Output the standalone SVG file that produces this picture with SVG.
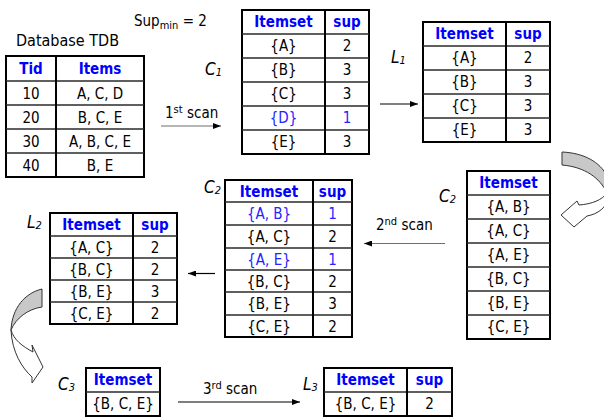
<svg xmlns="http://www.w3.org/2000/svg" width="604" height="418" viewBox="0 0 604 418">
  <defs>
    <marker id="head" viewBox="0 0 8 6" refX="8" refY="3" markerWidth="8" markerHeight="6" markerUnits="userSpaceOnUse" orient="auto">
      <path d="M0,0 L8,3 L0,6 Z" fill="#000"/>
    </marker>
    <style>
      text { font-family: "DejaVu Sans Condensed", "DejaVu Sans", sans-serif; font-size: 15px; fill: #000; }
      .c { text-anchor: middle; }
      .h { font-weight: bold; fill: #0000ff; }
      .blue { fill: #2323ff; }
      .lbl { font-style: italic; font-size: 17px; }
      .sub { font-size: 11px; }
      .title { font-size: 16px; }
      .frame { fill: #fff; stroke: #000; stroke-width: 2; }
      .rule { stroke: #2a2a2a; stroke-width: 1.6; }
      .div { stroke: #000; stroke-width: 2; }
      .arrow { stroke: #000; stroke-width: 1.2; fill: none; marker-end: url(#head); }
      .scan { stroke: #6e6e6e; }
      .band { fill: #c8c8c8; stroke: #333; stroke-width: 1; }
      .face { fill: #fff; stroke: #333; stroke-width: 1; }
    </style>
  </defs>

  <!-- free labels -->
  <text x="134" y="26">Sup<tspan class="sub" dy="3">min</tspan><tspan dy="-3"> = 2</tspan></text>
  <text class="title" x="16" y="46">Database TDB</text>

  <!-- transaction database -->
  <g id="tdb">
    <rect class="frame" x="6" y="56" width="138" height="121"/>
    <line class="rule" x1="6" y1="81" x2="144" y2="81"/>
    <line class="rule" x1="6" y1="105" x2="144" y2="105"/>
    <line class="rule" x1="6" y1="129" x2="144" y2="129"/>
    <line class="rule" x1="6" y1="153" x2="144" y2="153"/>
    <line class="div" x1="56" y1="56" x2="56" y2="177"/>
    <text class="c h" x="31" y="74">Tid</text>
    <text class="c h" x="100" y="74">Items</text>
    <text class="c" x="31" y="99">10</text><text class="c" x="100" y="99">A, C, D</text>
    <text class="c" x="31" y="123">20</text><text class="c" x="100" y="123">B, C, E</text>
    <text class="c" x="31" y="147">30</text><text class="c" x="100" y="147">A, B, C, E</text>
    <text class="c" x="31" y="171">40</text><text class="c" x="100" y="171">B, E</text>
  </g>

  <!-- candidate 1-itemsets -->
  <g id="c1">
    <text class="lbl" x="205" y="75">C<tspan class="sub" dy="1">1</tspan></text>
    <rect class="frame" x="242" y="10" width="127" height="144"/>
    <line class="rule" x1="242" y1="34" x2="369" y2="34"/>
    <line class="rule" x1="242" y1="58" x2="369" y2="58"/>
    <line class="rule" x1="242" y1="82" x2="369" y2="82"/>
    <line class="rule" x1="242" y1="106" x2="369" y2="106"/>
    <line class="rule" x1="242" y1="130" x2="369" y2="130"/>
    <line class="div" x1="325" y1="10" x2="325" y2="154"/>
    <text class="c h" x="283.5" y="27">Itemset</text><text class="c h" x="347" y="27">sup</text>
    <text class="c" x="283.5" y="51">{A}</text><text class="c" x="347" y="51">2</text>
    <text class="c" x="283.5" y="75">{B}</text><text class="c" x="347" y="75">3</text>
    <text class="c" x="283.5" y="99">{C}</text><text class="c" x="347" y="99">3</text>
    <text class="c blue" x="283.5" y="123">{D}</text><text class="c blue" x="347" y="123">1</text>
    <text class="c" x="283.5" y="147">{E}</text><text class="c" x="347" y="147">3</text>
  </g>

  <!-- frequent 1-itemsets -->
  <g id="l1">
    <text class="lbl" x="391" y="63">L<tspan class="sub" dy="1">1</tspan></text>
    <rect class="frame" x="423" y="22" width="127" height="120"/>
    <line class="rule" x1="423" y1="46" x2="550" y2="46"/>
    <line class="rule" x1="423" y1="70" x2="550" y2="70"/>
    <line class="rule" x1="423" y1="94" x2="550" y2="94"/>
    <line class="rule" x1="423" y1="118" x2="550" y2="118"/>
    <line class="div" x1="506" y1="22" x2="506" y2="142"/>
    <text class="c h" x="464.5" y="39">Itemset</text><text class="c h" x="528" y="39">sup</text>
    <text class="c" x="464.5" y="63">{A}</text><text class="c" x="528" y="63">2</text>
    <text class="c" x="464.5" y="87">{B}</text><text class="c" x="528" y="87">3</text>
    <text class="c" x="464.5" y="111">{C}</text><text class="c" x="528" y="111">3</text>
    <text class="c" x="464.5" y="135">{E}</text><text class="c" x="528" y="135">3</text>
  </g>

  <!-- candidate 2-itemsets (generated) -->
  <g id="c2-gen">
    <text class="lbl" x="439" y="202">C<tspan class="sub" dy="1">2</tspan></text>
    <rect class="frame" x="467" y="171" width="83" height="168"/>
    <line class="rule" x1="467" y1="195" x2="550" y2="195"/>
    <line class="rule" x1="467" y1="219" x2="550" y2="219"/>
    <line class="rule" x1="467" y1="243" x2="550" y2="243"/>
    <line class="rule" x1="467" y1="267" x2="550" y2="267"/>
    <line class="rule" x1="467" y1="291" x2="550" y2="291"/>
    <line class="rule" x1="467" y1="315" x2="550" y2="315"/>
    <text class="c h" x="508.5" y="188">Itemset</text>
    <text class="c" x="508.5" y="212">{A, B}</text>
    <text class="c" x="508.5" y="236">{A, C}</text>
    <text class="c" x="508.5" y="260">{A, E}</text>
    <text class="c" x="508.5" y="284">{B, C}</text>
    <text class="c" x="508.5" y="308">{B, E}</text>
    <text class="c" x="508.5" y="332">{C, E}</text>
  </g>

  <!-- candidate 2-itemsets (counted) -->
  <g id="c2-count">
    <text class="lbl" x="204" y="193">C<tspan class="sub" dy="1">2</tspan></text>
    <rect class="frame" x="225" y="180" width="127" height="157"/>
    <line class="rule" x1="225" y1="202" x2="352" y2="202"/>
    <line class="rule" x1="225" y1="225" x2="352" y2="225"/>
    <line class="rule" x1="225" y1="248" x2="352" y2="248"/>
    <line class="rule" x1="225" y1="270" x2="352" y2="270"/>
    <line class="rule" x1="225" y1="292" x2="352" y2="292"/>
    <line class="rule" x1="225" y1="315" x2="352" y2="315"/>
    <line class="div" x1="313" y1="180" x2="313" y2="337"/>
    <text class="c h" x="269" y="197">Itemset</text><text class="c h" x="332.5" y="197">sup</text>
    <text class="c blue" x="269" y="219">{A, B}</text><text class="c blue" x="332.5" y="219">1</text>
    <text class="c" x="269" y="242">{A, C}</text><text class="c" x="332.5" y="242">2</text>
    <text class="c blue" x="269" y="265">{A, E}</text><text class="c blue" x="332.5" y="265">1</text>
    <text class="c" x="269" y="287">{B, C}</text><text class="c" x="332.5" y="287">2</text>
    <text class="c" x="269" y="309">{B, E}</text><text class="c" x="332.5" y="309">3</text>
    <text class="c" x="269" y="332">{C, E}</text><text class="c" x="332.5" y="332">2</text>
  </g>

  <!-- frequent 2-itemsets -->
  <g id="l2">
    <text class="lbl" x="27" y="228">L<tspan class="sub" dy="1">2</tspan></text>
    <rect class="frame" x="50" y="213" width="127" height="111"/>
    <line class="rule" x1="50" y1="236" x2="177" y2="236"/>
    <line class="rule" x1="50" y1="258" x2="177" y2="258"/>
    <line class="rule" x1="50" y1="280" x2="177" y2="280"/>
    <line class="rule" x1="50" y1="302" x2="177" y2="302"/>
    <line class="div" x1="133" y1="213" x2="133" y2="324"/>
    <text class="c h" x="91.5" y="230">Itemset</text><text class="c h" x="155" y="230">sup</text>
    <text class="c" x="91.5" y="253">{A, C}</text><text class="c" x="155" y="253">2</text>
    <text class="c" x="91.5" y="275">{B, C}</text><text class="c" x="155" y="275">2</text>
    <text class="c" x="91.5" y="297">{B, E}</text><text class="c" x="155" y="297">3</text>
    <text class="c" x="91.5" y="319">{C, E}</text><text class="c" x="155" y="319">2</text>
  </g>

  <!-- candidate 3-itemsets -->
  <g id="c3">
    <text class="lbl" x="58" y="390">C<tspan class="sub" dy="1">3</tspan></text>
    <rect class="frame" x="86" y="368" width="74" height="48"/>
    <line class="rule" x1="86" y1="392" x2="160" y2="392"/>
    <text class="c h" x="123" y="385">Itemset</text>
    <text class="c" x="123" y="409">{B, C, E}</text>
  </g>

  <!-- frequent 3-itemsets -->
  <g id="l3">
    <text class="lbl" x="303" y="390">L<tspan class="sub" dy="1">3</tspan></text>
    <rect class="frame" x="324" y="368" width="128" height="48"/>
    <line class="rule" x1="324" y1="392" x2="452" y2="392"/>
    <line class="div" x1="407" y1="368" x2="407" y2="416"/>
    <text class="c h" x="365.5" y="385">Itemset</text><text class="c h" x="429.5" y="385">sup</text>
    <text class="c" x="365.5" y="409">{B, C, E}</text><text class="c" x="429.5" y="409">2</text>
  </g>

  <!-- connectors -->
  <g id="connectors">
    <text x="165" y="118">1<tspan class="sub" dy="-5">st</tspan><tspan dy="5"> scan</tspan></text>
    <line class="arrow scan" x1="161" y1="126" x2="221" y2="126"/>
    <line class="arrow" x1="380" y1="104" x2="418" y2="104"/>
    <text x="376" y="230">2<tspan class="sub" dy="-5">nd</tspan><tspan dy="5"> scan</tspan></text>
    <line class="arrow scan" x1="445" y1="243.5" x2="364" y2="243.5"/>
    <line class="arrow" x1="215" y1="273.5" x2="188" y2="273.5"/>
    <text x="203" y="394">3<tspan class="sub" dy="-5">rd</tspan><tspan dy="5"> scan</tspan></text>
    <line class="arrow" x1="178" y1="402" x2="300" y2="402"/>

    <!-- bent arrow L1 to C2 -->
    <path class="band" d="M562,152 C584,153 600,162 607,176 L607,193 C600,178 585,167 562,165 Z"/>
    <path class="face" d="M607,193 C602,200 592,204 579,205 L577,201 L561,215 L574,227 L587,216 C598,214 606,208 610,196"/>

    <!-- bent arrow L2 to C3 -->
    <path class="band" d="M42,289 C25,293 12,308 11,330 C16,318 28,309 42,307 Z"/>
    <path class="face" d="M11,330 C12,352 22,368 32,377 L32,383 L43,367 L32,345 L33,352 C22,346 14,340 11,330 Z"/>
  </g>
</svg>
